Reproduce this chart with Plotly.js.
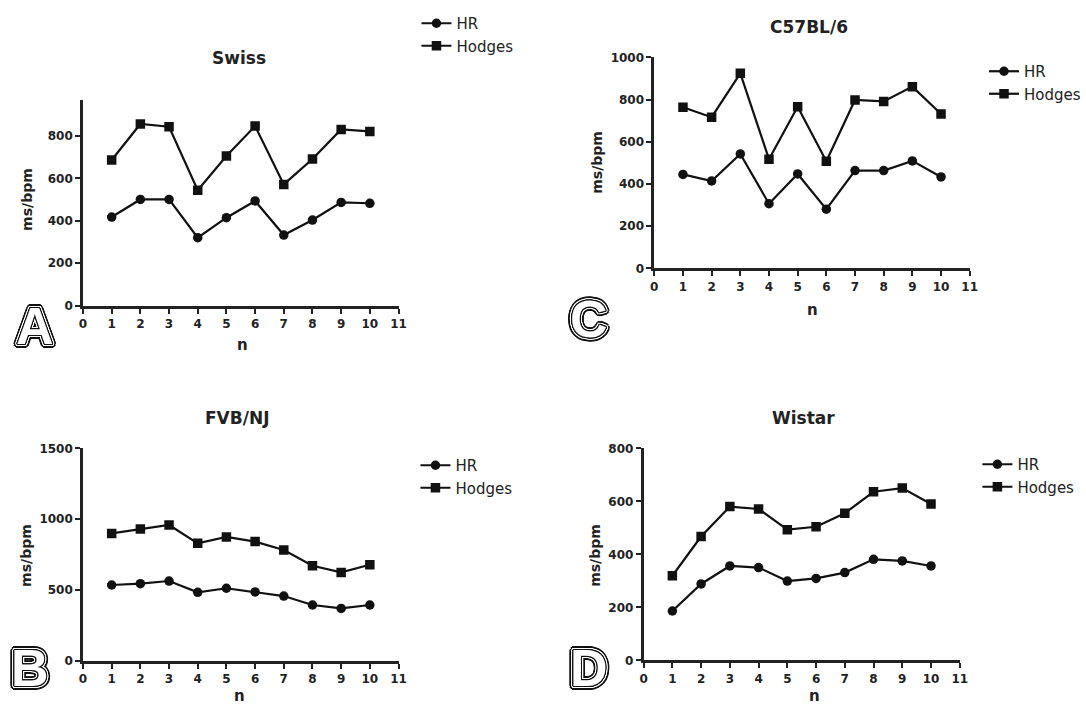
<!DOCTYPE html>
<html><head><meta charset="utf-8">
<script src="https://cdn.plot.ly/plotly-3.0.1.min.js"></script>
<style>html,body{margin:0;padding:0;background:#fff}#chart{width:1086px;height:706px}</style>
</head><body><div id="chart"></div>
<script>
// ---- data ----
const nValues = [1,2,3,4,5,6,7,8,9,10];
const xTicks = [0,1,2,3,4,5,6,7,8,9,10,11];
const seriesNames = ["HR","Hodges"];
const panelTitles = ["Swiss","C57BL/6","FVB/NJ","Wistar"];
const panelLetters = ["A","C","B","D"];

const swissHR      = [418,501,501,321,415,494,333,404,487,483];
const swissHodges  = [687,857,844,545,706,847,572,692,831,822];
const c57HR        = [445,414,542,306,447,280,463,463,509,433];
const c57Hodges    = [763,716,924,517,766,507,798,791,861,731];
const fvbHR        = [536,545,564,484,513,487,458,395,371,395];
const fvbHodges    = [900,931,959,830,875,842,783,672,625,679];
const wistarHR     = [186,288,356,350,299,309,331,381,375,356];
const wistarHodges = [319,467,580,571,493,504,555,636,650,590];

const yTicksA = [0,200,400,600,800];
const yTicksC = [0,200,400,600,800,1000];
const yTicksB = [0,500,1000,1500];
const yTicksD = [0,200,400,600,800];

// ---- layout helpers ----
const W = 1086, H = 706;
const FONT = "'DejaVu Sans', Arial, sans-serif";
const LFONT = "Arial, 'Liberation Sans', sans-serif";
const px = v => v / W;
const py = v => 1 - v / H;

const panels = [
  {hr: swissHR,  hod: swissHodges,  yr:[0,970],  yt:yTicksA, x0:83.3, x1:400,   yb:305.7, yt0:100,
   title:[240,58], ytitle:[27,199], xtitle:[243,345], letter:[35,326], legend:[418,7]},
  {hr: c57HR,    hod: c57Hodges,    yr:[0,1000], yt:yTicksC, x0:656.7,x1:973.3, yb:268.3, yt0:57.3,
   title:[812,27], ytitle:[599,162], xtitle:[816,310], letter:[591,319], legend:[988,55]},
  {hr: fvbHR,    hod: fvbHodges,    yr:[0,1500], yt:yTicksB, x0:83.3, x1:400,   yb:661,   yt0:448.3,
   title:[238,418], ytitle:[26,555], xtitle:[240,696], letter:[30,668], legend:[417,449]},
  {hr: wistarHR, hod: wistarHodges, yr:[0,800],  yt:yTicksD, x0:646,  x1:963.3, yb:660.3, yt0:448.3,
   title:[806,418], ytitle:[597,555], xtitle:[818,696], letter:[591,668], legend:[981,448]}
];

const data = [];
const layout = {
  width: W, height: H,
  margin: {l:0, r:0, t:0, b:0},
  paper_bgcolor: "#fff", plot_bgcolor: "#fff",
  font: {family: FONT, color: "#222"},
  showlegend: true,
  annotations: []
};

const axisBase = {
  showline: true, linecolor: "#222", linewidth: 2.8,
  ticks: "outside", ticklen: 5, tickwidth: 2, tickcolor: "#222",
  showgrid: false, zeroline: false, fixedrange: true,
  tickfont: {family: FONT, size: 12, weight: "bold", color: "#222"}
};

const ring = (r, c) => {
  const out = [];
  for (let a = 0; a < 16; a++) {
    const t = a * Math.PI / 8;
    out.push((r * Math.cos(t)).toFixed(1) + "px " + (r * Math.sin(t)).toFixed(1) + "px 0 " + c);
  }
  return out.join(", ");
};
const letterLayers = [
  {color: "#111", shadow: ring(4, "#111")},
  {color: "#fff", shadow: ring(2.2, "#fff")},
  {color: "#fff", shadow: ring(1, "#111")}
];

panels.forEach((p, i) => {
  const k = i + 1;
  const sfx = k === 1 ? "" : String(k);
  const lg = "legend" + sfx;
  data.push({
    x: nValues, y: p.hr, name: seriesNames[0], type: "scatter", mode: "lines+markers",
    xaxis: "x" + sfx, yaxis: "y" + sfx, legend: lg,
    line: {color: "#111", width: 2.2}, marker: {symbol: "circle", size: 9.5, color: "#111"}
  });
  data.push({
    x: nValues, y: p.hod, name: seriesNames[1], type: "scatter", mode: "lines+markers",
    xaxis: "x" + sfx, yaxis: "y" + sfx, legend: lg,
    line: {color: "#111", width: 2.2}, marker: {symbol: "square", size: 9.5, color: "#111"}
  });
  layout["xaxis" + sfx] = Object.assign({}, axisBase, {
    domain: [px(p.x0), px(p.x1)], range: [0, 11], tickvals: xTicks, anchor: "y" + sfx
  });
  layout["yaxis" + sfx] = Object.assign({}, axisBase, {
    domain: [py(p.yb), py(p.yt0)], range: p.yr, tickvals: p.yt, anchor: "x" + sfx
  });
  layout[lg] = {
    x: px(p.legend[0]), y: py(p.legend[1]), xanchor: "left", yanchor: "top",
    bgcolor: "rgba(0,0,0,0)", borderwidth: 0, traceorder: "normal",
    font: {family: FONT, size: 15, color: "#222"}
  };
  layout.annotations.push({text: panelTitles[i], xref: "paper", yref: "paper",
    x: px(p.title[0]), y: py(p.title[1]), showarrow: false, xanchor: "center", yanchor: "middle",
    font: {family: FONT, size: 17, weight: "bold", color: "#222"}});
  layout.annotations.push({text: "ms/bpm", xref: "paper", yref: "paper", textangle: -90,
    x: px(p.ytitle[0]), y: py(p.ytitle[1]), showarrow: false, xanchor: "center", yanchor: "middle",
    font: {family: FONT, size: 14, weight: "bold", color: "#222"}});
  layout.annotations.push({text: "n", xref: "paper", yref: "paper",
    x: px(p.xtitle[0]), y: py(p.xtitle[1]), showarrow: false, xanchor: "center", yanchor: "middle",
    font: {family: FONT, size: 15, weight: "bold", color: "#222"}});
  letterLayers.forEach(L => {
    layout.annotations.push({text: panelLetters[i], xref: "paper", yref: "paper",
      x: px(p.letter[0]), y: py(p.letter[1]), showarrow: false, xanchor: "center", yanchor: "middle",
      font: {family: LFONT, size: 52, weight: "bold", color: L.color, shadow: L.shadow}});
  });
});

Plotly.newPlot("chart", data, layout, {displayModeBar: false, staticPlot: true});
</script>
</body></html>
